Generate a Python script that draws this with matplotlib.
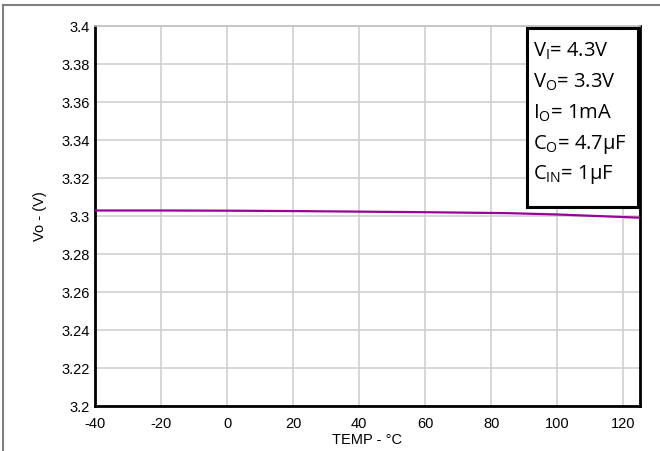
import matplotlib
matplotlib.use("Agg")
import matplotlib.pyplot as plt
from matplotlib.patches import Rectangle
from matplotlib.lines import Line2D

temp = [-40, -20, 0, 20, 40, 60, 80, 85, 100, 125]
vout = [3.3029, 3.3029, 3.3028, 3.3026, 3.3023, 3.3020, 3.3016, 3.3015, 3.3008, 3.2991]
xticks = [-40, -20, 0, 20, 40, 60, 80, 100, 120]
yticks = [3.2, 3.22, 3.24, 3.26, 3.28, 3.3, 3.32, 3.34, 3.36, 3.38, 3.4]
ytick_labels = ["3.2", "3.22", "3.24", "3.26", "3.28", "3.3", "3.32", "3.34", "3.36", "3.38", "3.4"]
box_lines = [r"V$_\mathregular{I}$= 4.3V", r"V$_\mathregular{O}$= 3.3V", r"I$_\mathregular{O}$= 1mA",
             r"C$_\mathregular{O}$= 4.7μF", r"C$_\mathregular{IN}$= 1μF"]

plt.rcParams['font.family'] = ['Liberation Sans', 'DejaVu Sans']
plt.rcParams['axes.unicode_minus'] = False
plt.rcParams['mathtext.fontset'] = 'custom'
plt.rcParams['mathtext.rm'] = 'Open Sans'

fig = plt.figure(figsize=(6.6, 4.51), dpi=100)
ax = fig.add_axes([95/660, 1-406/451, 545/660, 380/451])

ax.plot(temp, vout, color='#990099', lw=1.6, zorder=3)
ax.set_xlim(-40, 125)
ax.set_ylim(3.2, 3.4)
ax.set_xticks(xticks)
ax.set_yticks(yticks)
ax.set_yticklabels(ytick_labels)
ax.grid(True, color='#d0d0d0', lw=1.2)
ax.tick_params(axis='y', length=0, labelsize=10.5, pad=4)
ax.tick_params(axis='x', length=0, labelsize=10.5, pad=8)
for s in ['left', 'bottom', 'right']:
    ax.spines[s].set_linewidth(2)
    ax.spines[s].set_color('black')
ax.spines['top'].set_color('#c0c0c0')
ax.spines['top'].set_linewidth(1.2)
ax.set_xlabel("TEMP - °C", fontsize=10.5, labelpad=1)
ax.set_ylabel("Vo - (V)", fontsize=10.5, labelpad=10)

# info box
bx0, bx1, by0, by1 = 527/660, 638/660, 1-207/451, 1-28/451
fig.patches.append(Rectangle((bx0, by0), bx1-bx0, by1-by0, transform=fig.transFigure,
                             facecolor='white', edgecolor='black', lw=2.2, zorder=5))
ys = [51, 82, 113, 144, 175]
for t, y in zip(box_lines, ys):
    fig.text(533/660, 1-y/451, t, fontsize=14.5, family='Open Sans', va='center', ha='left', zorder=6)

# outer frame lines
fig.lines.append(Line2D([3/660, 1], [1-5/451, 1-5/451], transform=fig.transFigure, color='#808080', lw=1.5))
fig.lines.append(Line2D([3/660, 3/660], [0, 1-5/451], transform=fig.transFigure, color='#808080', lw=1.5))

fig.savefig("out.png", dpi=100)
